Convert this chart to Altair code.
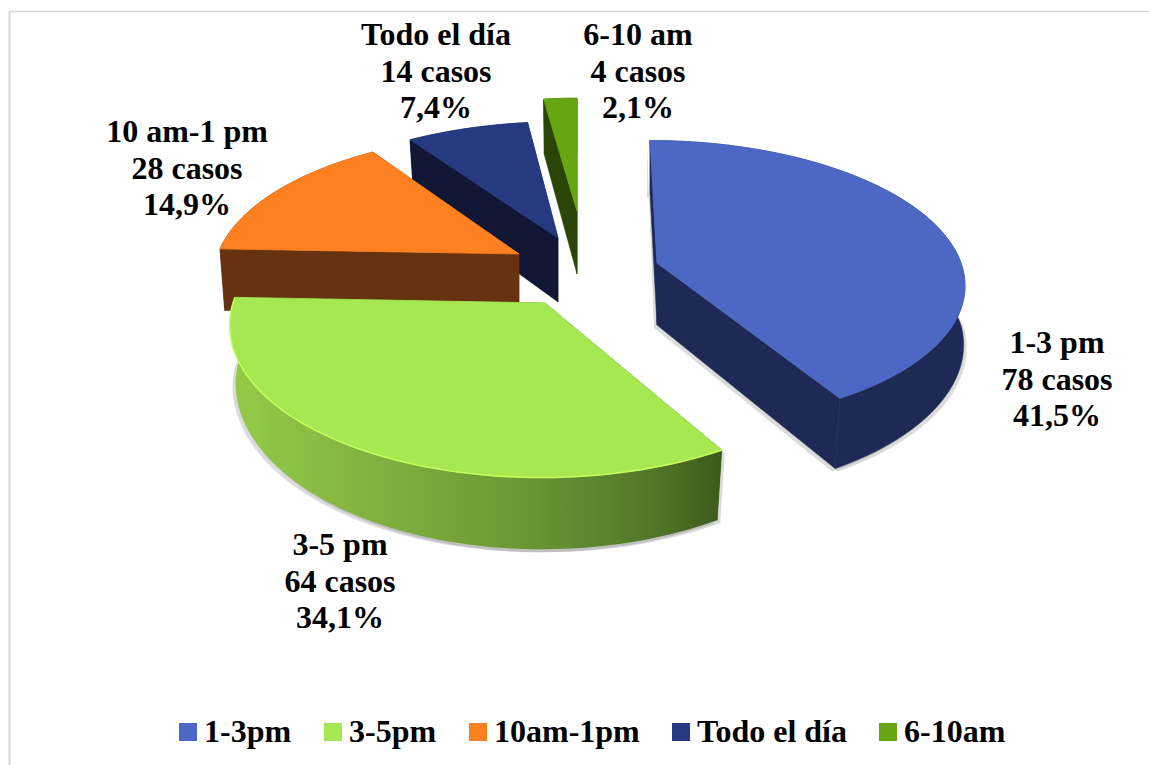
import numpy as np
import pandas as pd
import altair as alt

# Values shown on the chart
tramos = ["1-3 pm", "3-5 pm", "10 am-1 pm", "Todo el día", "6-10 am"]
leyenda = ["1-3pm", "3-5pm", "10am-1pm", "Todo el día", "6-10am"]
casos = [78, 64, 28, 14, 4]
porcentajes = [41.5, 34.1, 14.9, 7.4, 2.1]

# Colours: top face and side face of each slice
color_tapa = ["#4c67c4", "#a6e851", "#fe8020", "#253a80", "#66a611"]
color_lado = ["#1e2a55", "#6e9a38", "#663210", "#101634", "#2b4506"]

# Projection of each exploded slice: apex x/y, radii, shear and extrusion depth
centro_x = [657, 545, 519, 558, 577]
centro_y = [263, 303, 254, 238, 211]
radio_x = [304, 312, 301, 300, 288]
radio_y = [139, 151, 137, 132, 128]
sesgo = [8, -3, -8, -5, 0]
fondo = [62, 62, 62, 64, 63]
PERSPECTIVA = 0.135

# Anchor of each data label (first line) and the layering order of the slices
etiqueta_x = [1057, 340, 187, 436, 638]
etiqueta_y = [343, 545, 132, 35, 35]
orden_capas = [3, 4, 2, 0, 1]


def proyectar(i, theta, z=0.0):
    """Project a disc point at clock angle theta onto the page, z pixels down."""
    u, v = np.sin(theta), -np.cos(theta)
    w = 1 - PERSPECTIVA * v
    dx = (radio_x[i] * u + sesgo[i] * v) / w
    dy = radio_y[i] * v / w
    factor = 1.0
    if z > 0:
        # The lower rim converges slightly towards the vanishing point
        factor = 1 - 0.03 * max(v, 0) - 0.02 * max(-v, 0) - 0.015 * max(-u, 0)
    return centro_x[i] + dx * factor, centro_y[i] + dy + z / w


def poligono(puntos, **extra):
    filas = [dict(x=p[0], y=p[1], idx=k, **extra) for k, p in enumerate(puntos)]
    filas.append(dict(x=puntos[0][0], y=puntos[0][1], idx=len(puntos), **extra))
    return pd.DataFrame(filas)


limites = np.concatenate([[0], np.cumsum(porcentajes)]) / sum(porcentajes) * 2 * np.pi

escala_x = alt.X("x:Q", scale=alt.Scale(domain=[0, 1149], nice=False), axis=None)
escala_y = alt.Y("y:Q", scale=alt.Scale(domain=[765, 0], nice=False), axis=None)
orden = alt.Order("idx:Q")

degradado_verde = alt.Gradient(
    gradient="linear", x1=0, y1=0, x2=1, y2=0,
    stops=[
        alt.GradientStop(offset=0, color="#93cc48"),
        alt.GradientStop(offset=0.3, color="#80b03f"),
        alt.GradientStop(offset=0.6, color="#6a9734"),
        alt.GradientStop(offset=0.85, color="#547829"),
        alt.GradientStop(offset=1, color="#3e5a1c"),
    ],
)

capas = []

# Page frame: thin grey rules along the left and top edges
capas.append(alt.Chart(pd.DataFrame({"a": [0]})).mark_rule(color="#d9d9d9", strokeWidth=2).encode(
    x=alt.value(9.5), y=alt.value(11), y2=alt.value(765)))
capas.append(alt.Chart(pd.DataFrame({"a": [0]})).mark_rule(color="#d9d9d9", strokeWidth=1.5).encode(
    x=alt.value(9), x2=alt.value(1149), y=alt.value(11.5)))

for i in orden_capas:
    t0, t1 = limites[i], limites[i + 1]
    arco = np.linspace(t0, t1, 70)
    d = fondo[i]
    apice = (centro_x[i], centro_y[i])
    apice_b = (centro_x[i], centro_y[i] + d)
    arco_a = [proyectar(i, t) for t in arco]
    arco_b = [proyectar(i, t, d) for t in arco]

    # Soft shadow under the two large slices
    if i in (0, 1):
        base = arco_b + [apice_b, proyectar(i, t0, d)]
        for desp in (-3, 3):
            sombra = poligono([(p[0] + desp, p[1] + 3) for p in ([arco_a[0]] + base[:-1])])
            capas.append(alt.Chart(sombra).mark_line(
                fill="#707070", fillOpacity=0.25, strokeOpacity=0).encode(x=escala_x, y=escala_y, order=orden))

    # Straight cut faces
    relleno_corte = "#3e5a1c" if i == 1 else color_lado[i]
    for t, a, b in ((t0, arco_a[0], arco_b[0]), (t1, arco_a[-1], arco_b[-1])):
        capas.append(alt.Chart(poligono([apice, a, b, apice_b])).mark_line(
            fill=relleno_corte, stroke=relleno_corte, strokeWidth=0.5).encode(x=escala_x, y=escala_y, order=orden))

    # Curved outer wall
    pared = poligono(arco_a + arco_b[::-1])
    if i == 1:
        capas.append(alt.Chart(pared).mark_line(fill=degradado_verde, strokeOpacity=0).encode(
            x=escala_x, y=escala_y, order=orden))
    else:
        capas.append(alt.Chart(pared).mark_line(fill=color_lado[i], stroke=color_lado[i], strokeWidth=0.5).encode(
            x=escala_x, y=escala_y, order=orden))

    # Top face, which also feeds the legend
    tapa = poligono([apice] + arco_a, serie=leyenda[i])
    capas.append(alt.Chart(tapa).mark_line(stroke=color_tapa[i], strokeWidth=0.8).encode(
        x=escala_x, y=escala_y, order=orden,
        fill=alt.Fill(
            "serie:N",
            scale=alt.Scale(domain=leyenda, range=color_tapa),
            legend=alt.Legend(
                title=None, orient="none", legendX=172, legendY=716, direction="horizontal",
                columns=5, gridAlign="none", columnPadding=25, symbolType="square", symbolSize=324,
                symbolStrokeWidth=0, labelFont="Liberation Serif", labelFontWeight="bold",
                labelFontSize=32, labelColor="#000000", labelOffset=0, labelLimit=300,
            ),
        ),
    ))

    # Pale rim along the arc of the green slice
    if i == 1:
        capas.append(alt.Chart(poligono(arco_a).iloc[:-1]).mark_line(
            stroke="#c4ff5c", strokeWidth=1.5).encode(x=escala_x, y=escala_y, order=orden))

# Data labels
rotulos = pd.DataFrame({
    "x": etiqueta_x,
    "y": etiqueta_y,
    "texto": [
        f"{t}\n{c} casos\n{str(p).replace('.', ',')}%"
        for t, c, p in zip(tramos, casos, porcentajes)
    ],
})
capas.append(alt.Chart(rotulos).mark_text(
    font="Liberation Serif", fontWeight="bold", fontSize=32, color="#000000",
    align="center", baseline="middle", lineBreak="\n", lineHeight=36.5,
).encode(x=escala_x, y=escala_y, text="texto:N"))

chart = alt.layer(*capas).resolve_scale(fill="shared").properties(
    width=1149, height=765, padding=0, autosize=alt.AutoSizeParams(type="none"),
    background="#ffffff",
).configure_view(stroke=None)

chart.save("out.html", embed_options={"renderer": "svg", "actions": False})
